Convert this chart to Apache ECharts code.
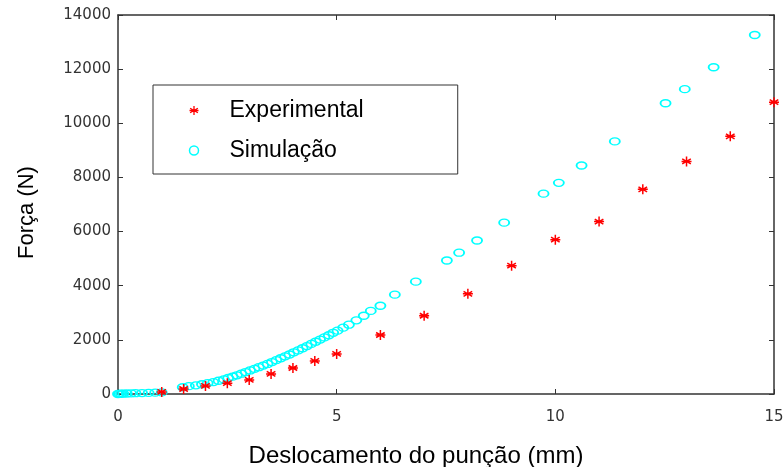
<!DOCTYPE html>
<html>
<head>
<meta charset="utf-8">
<script src="https://cdn.jsdelivr.net/npm/echarts@6/dist/echarts.min.js"></script>
<style>html,body{margin:0;padding:0;background:#fff;}#c{width:784px;height:467px;}</style>
</head>
<body>
<div id="c"></div>
<script>
// Experimental data: punch displacement (mm) and force (N)
var expX = [1, 1.5, 2, 2.5, 3, 3.5, 4, 4.5, 5, 6, 7, 8, 9, 10, 11, 12, 13, 14, 15];
var expY = [75, 185, 300, 400, 520, 740, 960, 1220, 1480, 2180, 2890, 3700, 4740, 5700, 6370, 7560, 8590, 9520, 10780];

// Simulation data
var simX = [0, 0.03, 0.07, 0.12, 0.2, 0.3, 0.4, 0.55, 0.7, 0.85, 1.0,
  1.48, 1.62, 1.78, 1.92, 2.05, 2.18, 2.3, 2.42, 2.52, 2.62, 2.72, 2.82, 2.92, 3.02, 3.12, 3.22, 3.32, 3.42, 3.52,
  3.62, 3.72, 3.82, 3.92, 4.02, 4.12, 4.22, 4.32, 4.42, 4.52, 4.62, 4.72, 4.82, 4.92, 5.02, 5.15, 5.28, 5.45, 5.62, 5.78,
  6.0, 6.33, 6.81, 7.52, 7.8, 8.21, 8.83, 9.73, 10.08, 10.6, 11.36, 12.52, 12.96, 13.62, 14.56, 15.03];
var simY = [0, 5, 10, 15, 20, 25, 30, 35, 40, 50, 60,
  250, 290, 320, 360, 400, 440, 490, 540, 590, 640, 690, 750, 810, 870, 930, 990, 1050, 1110, 1180,
  1250, 1320, 1390, 1460, 1540, 1610, 1690, 1770, 1850, 1930, 2010, 2090, 2170, 2260, 2340, 2450, 2560, 2720, 2890, 3070,
  3260, 3670, 4150, 4930, 5220, 5670, 6330, 7400, 7800, 8440, 9330, 10740, 11260, 12070, 13260, 13740];

var xTicks = [0, 5, 10, 15];
var yTicks = [0, 2000, 4000, 6000, 8000, 10000, 12000, 14000];

var seriesNames = ['Experimental', 'Simulação'];

function pairs(xs, ys) { return xs.map(function (x, i) { return [x, ys[i]]; }); }

var asterisk = 'path://M5,0 L5,10 M0.7,2.5 L9.3,7.5 M0.7,7.5 L9.3,2.5 M0,5 L10,5';

var axisCol = '#333';
var font = 'Liberation Sans, Arial, sans-serif';
var tickFont = 'DejaVu Sans, sans-serif';

var chart = echarts.init(document.getElementById('c'), null, {renderer: 'canvas'});
chart.setOption({
  animation: false,
  backgroundColor: '#fff',
  grid: {left: 118, right: 10, top: 15, bottom: 73, containLabel: false, outerBoundsMode: 'none'},
  legend: {
    orient: 'vertical',
    left: 153, top: 85,
    padding: [14, 94, 12, 34],
    itemGap: 17,
    itemWidth: 9, itemHeight: 9,
    borderColor: '#333', borderWidth: 1,
    backgroundColor: '#fff',
    textStyle: {fontFamily: font, fontSize: 23, color: '#000', lineHeight: 22, padding: [0, 0, 0, 26]},
    data: [
      {name: seriesNames[0], icon: asterisk, itemStyle: {color: 'none', borderColor: '#ff0000', borderWidth: 1.3}},
      {name: seriesNames[1], icon: 'circle', itemStyle: {color: 'none', borderColor: '#00ffff', borderWidth: 1.5}}
    ]
  },
  xAxis: [{
    type: 'value', min: 0, max: 15, interval: 5,
    axisLine: {show: true, onZero: false, lineStyle: {color: axisCol, width: 1.5}},
    axisTick: {show: true, inside: true, length: 5, lineStyle: {color: axisCol}},
    axisLabel: {fontFamily: tickFont, fontSize: 15, color: '#333', margin: 16,
      formatter: function (v) { return xTicks.indexOf(v) >= 0 ? String(v) : ''; }},
    splitLine: {show: false},
    name: 'Deslocamento do punção (mm)',
    nameLocation: 'middle', nameGap: 50,
    nameTextStyle: {fontFamily: font, fontSize: 24, color: '#000', padding: [0, 60, 0, 0]}
  }, {
    type: 'value', min: 0, max: 15, interval: 5, position: 'top',
    axisLine: {show: true, onZero: false, lineStyle: {color: axisCol, width: 1.5}},
    axisTick: {show: true, inside: true, length: 5, lineStyle: {color: axisCol}},
    axisLabel: {show: false}, splitLine: {show: false}
  }],
  yAxis: [{
    type: 'value', min: 0, max: 14000, interval: 2000,
    axisLine: {show: true, onZero: false, lineStyle: {color: axisCol, width: 1.5}},
    axisTick: {show: true, inside: true, length: 5, lineStyle: {color: axisCol}},
    axisLabel: {fontFamily: tickFont, fontSize: 15, color: '#333', margin: 7,
      formatter: function (v) { return yTicks.indexOf(v) >= 0 ? String(v) : ''; }},
    splitLine: {show: false},
    name: 'Força (N)',
    nameLocation: 'middle', nameGap: 80, nameRotate: 90,
    nameTextStyle: {fontFamily: font, fontSize: 22, color: '#000', padding: [0, 16, 0, 0]}
  }, {
    type: 'value', min: 0, max: 14000, interval: 2000, position: 'right',
    axisLine: {show: true, onZero: false, lineStyle: {color: axisCol, width: 1.5}},
    axisTick: {show: true, inside: true, length: 5, lineStyle: {color: axisCol}},
    axisLabel: {show: false}, splitLine: {show: false}
  }],
  series: [{
    name: seriesNames[0], type: 'scatter', xAxisIndex: 0, yAxisIndex: 0,
    symbol: asterisk, symbolSize: 10,
    itemStyle: {color: 'none', borderColor: '#ff0000', borderWidth: 1.5, opacity: 1},
    data: pairs(expX, expY), z: 3
  }, {
    name: seriesNames[1], type: 'scatter', xAxisIndex: 0, yAxisIndex: 0,
    symbol: 'circle', symbolSize: [10, 7],
    itemStyle: {color: 'none', borderColor: '#00ffff', borderWidth: 1.6, opacity: 1},
    data: pairs(simX, simY), z: 2
  }]
});
</script>
</body>
</html>
